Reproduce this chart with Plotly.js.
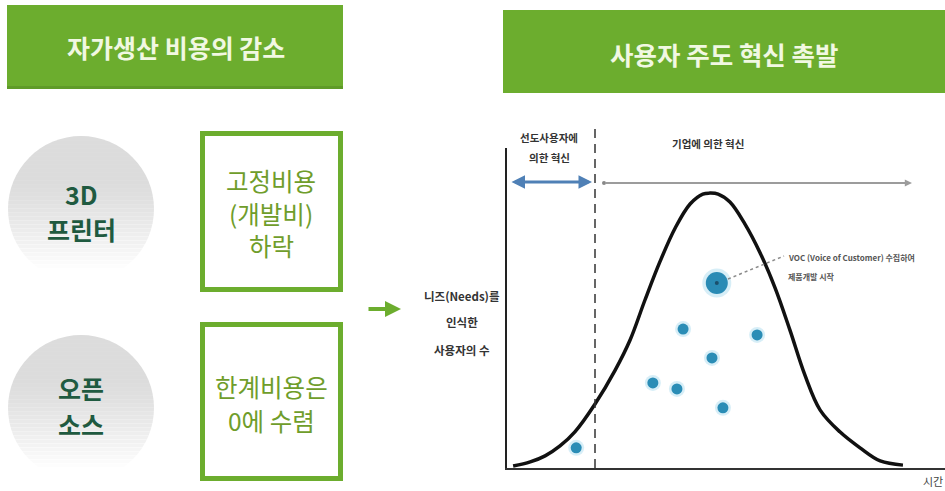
<!DOCTYPE html>
<html>
<head>
<meta charset="utf-8">
<script src="https://cdn.plot.ly/plotly-3.0.1.min.js"></script>
<style>
  html, body { margin: 0; padding: 0; background: #fff; }
  #chart { width: 945px; height: 491px; }
</style>
</head>
<body>
<div id="chart"></div>
<script>
// Diffusion curve: users who recognise a need, over time
const curveTime  = [1.4, 5.3, 8.7, 12.1, 15.5, 20.1, 24.7, 28.1, 31.5, 34.9, 38.4, 41.8, 44.7, 46.3, 48.2, 50.9, 54.3, 57.8, 61.2, 64.6, 68.0, 71.5, 76.0, 80.6, 85.2, 90.4];
const curveUsers = [0.6, 1.9, 3.8, 6.9, 11.3, 20.0, 30.6, 40.0, 52.5, 64.4, 75.0, 82.5, 85.6, 85.9, 85.6, 83.1, 76.3, 67.2, 56.3, 43.1, 29.1, 18.1, 11.3, 6.3, 2.2, 0.9];

// Individual innovating users
const userTime  = [15.8, 40.2, 57.1, 46.8, 33.3, 38.8, 49.3];
const userCount = [6.3, 43.4, 41.6, 34.4, 26.6, 24.7, 18.8];

// User whose voice starts the firm's product development
const vocTime  = [47.9];
const vocCount = [57.8];

// Text
const leftHeader  = '자가생산 비용의 감소';
const rightHeader = '사용자 주도 혁신 촉발';
const driverLines = [['3D', '프린터'], ['오픈', '소스']];
const effectLines = [['고정비용', '(개발비)', '하락'], ['한계비용은', '0에 수렴']];
const leadUserLines = ['선도사용자에', '의한 혁신'];
const firmLabel = '기업에 의한 혁신';
const yLabelLines = ['니즈(Needs)를', '인식한', '사용자의 수'];
const xLabel = '시간';
const vocLines = ['VOC (Voice of Customer) 수집하여', '제품개발 시작'];

// Page geometry helpers (pixel -> paper)
const W = 945, H = 491;
const px = x => x / W;
const py = y => 1 - y / H;

const FONT = '"Noto Sans CJK KR", "Noto Sans", sans-serif';
const GREEN = '#6cad2e';

const shapes = [];
const annotations = [];

function rectPx(x0, y0, x1, y1, opts) {
  shapes.push(Object.assign({type: 'rect', xref: 'paper', yref: 'paper',
    x0: px(x0), x1: px(x1), y0: py(y1), y1: py(y0)}, opts));
}
function textPx(x, y, text, size, color, weight, anchor) {
  annotations.push({xref: 'paper', yref: 'paper', x: px(x), y: py(y), text: text,
    showarrow: false, xanchor: anchor || 'center', yanchor: 'middle', borderpad: 0,
    font: {family: FONT, size: size, color: color, weight: weight || 'normal'}});
}
function arrowPx(hx, hy, tx, ty, color, width, head, size, side) {
  annotations.push({xref: 'paper', yref: 'paper', x: px(hx), y: py(hy),
    ax: tx - hx, ay: ty - hy, axref: 'pixel', ayref: 'pixel', text: '',
    showarrow: true, arrowcolor: color, arrowwidth: width, arrowhead: head,
    arrowsize: size, arrowside: side || 'end', startarrowhead: head, startarrowsize: size});
}

// Green header bars
rectPx(7, 5, 343, 88, {fillcolor: GREEN, line: {width: 0}});
rectPx(7, 86, 343, 89, {fillcolor: '#5f9b28', line: {width: 0}});
rectPx(503, 10, 945, 93, {fillcolor: GREEN, line: {width: 0}});
textPx(176, 47, leftHeader, 25, '#f1f8e2', 'bold');
textPx(724, 53, rightHeader, 25.5, '#f1f8e2', 'bold');

// Grey discs fading to white towards the bottom
function fadedDisc(cx, cy, r) {
  shapes.push({type: 'circle', xref: 'paper', yref: 'paper',
    x0: px(cx - r), x1: px(cx + r), y0: py(cy + r), y1: py(cy - r),
    fillcolor: '#d8d8d8', line: {width: 0}});
  const step = 4;
  for (let y = cy - r; y < cy + r; y += step) {
    const t = (y + step / 2 - (cy - r)) / (2 * r);
    const k = Math.min(1, Math.max(0, (t - 0.3) / 0.62));
    const op = Math.min(1, 0.1 + 0.9 * Math.pow(k, 1.3));
    rectPx(cx - r - 1, y, cx + r + 1, y + step + 0.5, {fillcolor: '#ffffff', opacity: op, line: {width: 0}});
  }
}
fadedDisc(81, 209, 73);
fadedDisc(81, 408, 73);
textPx(81, 194, driverLines[0][0], 25, '#1f5a40', 'bold');
textPx(81, 229, driverLines[0][1], 25, '#1f5a40', 'bold');
textPx(81, 388, driverLines[1][0], 25, '#1f5a40', 'bold');
textPx(81, 424, driverLines[1][1], 25, '#1f5a40', 'bold');

// Green outlined effect boxes
rectPx(202.5, 133.5, 340.5, 289.5, {fillcolor: 'rgba(0,0,0,0)', line: {color: GREEN, width: 5}});
rectPx(202.5, 324.5, 340.5, 478.5, {fillcolor: 'rgba(0,0,0,0)', line: {color: GREEN, width: 5}});
textPx(271, 181, effectLines[0][0], 24.5, '#6f9d2b');
textPx(271, 213, effectLines[0][1], 24.5, '#6f9d2b');
textPx(271, 245, effectLines[0][2], 24.5, '#6f9d2b');
textPx(271, 386, effectLines[1][0], 24.5, '#6f9d2b');
textPx(271, 420, effectLines[1][1], 24.5, '#6f9d2b');

// Green arrow linking the two halves
arrowPx(401, 309, 367, 309, GREEN, 4, 2, 0.8);

// Boundary between lead-user and firm innovation
shapes.push({type: 'line', xref: 'paper', yref: 'paper', x0: px(595), x1: px(595),
  y0: py(468), y1: py(124), line: {color: '#333', width: 1.5, dash: '9px,6px'}});

// Span arrows above the curve
arrowPx(592, 182, 510, 182, '#4f80b6', 3, 2, 0.9, 'end+start');
arrowPx(912, 183, 604, 183, '#9c9c9c', 1.8, 2, 0.8);
shapes.push({type: 'circle', xref: 'paper', yref: 'paper', x0: px(602), x1: px(606),
  y0: py(185), y1: py(181), fillcolor: '#888', line: {width: 0}});
textPx(549, 137, leadUserLines[0], 10.5, '#333', 'bold');
textPx(549, 157, leadUserLines[1], 10.5, '#333', 'bold');
textPx(708, 143, firmLabel, 10.5, '#333', 'bold');

// Axis captions
textPx(462, 296, yLabelLines[0], 11.5, '#333', 'bold');
textPx(462, 322, yLabelLines[1], 11.5, '#333', 'bold');
textPx(462, 350, yLabelLines[2], 11.5, '#333', 'bold');
textPx(922, 481, xLabel, 11, '#444', 'normal', 'left');

// VOC call-out
shapes.push({type: 'line', xref: 'paper', yref: 'paper', x0: px(728), x1: px(784),
  y0: py(279), y1: py(256), line: {color: '#8a8a8a', width: 1.5, dash: 'dot'}});
textPx(787, 257, vocLines[0], 8, '#555', 'bold', 'left');
textPx(787, 276, vocLines[1], 8, '#555', 'bold', 'left');

const traces = [
  {x: curveTime, y: curveUsers, type: 'scatter', mode: 'lines',
   line: {color: '#111', width: 3.5, shape: 'spline', smoothing: 1}, hoverinfo: 'skip'},
  {x: userTime, y: userCount, type: 'scatter', mode: 'markers',
   marker: {size: 16, color: 'rgba(140,205,232,0.35)'}, hoverinfo: 'skip'},
  {x: userTime, y: userCount, type: 'scatter', mode: 'markers',
   marker: {size: 11, color: '#2b8db6'}, hoverinfo: 'skip'},
  {x: vocTime, y: vocCount, type: 'scatter', mode: 'markers',
   marker: {size: 29, color: 'rgba(140,205,232,0.35)'}, hoverinfo: 'skip'},
  {x: vocTime, y: vocCount, type: 'scatter', mode: 'markers',
   marker: {size: 22, color: '#2a8bb5'}, hoverinfo: 'skip'},
  {x: vocTime, y: vocCount, type: 'scatter', mode: 'markers',
   marker: {size: 4, color: '#1b4f6c'}, hoverinfo: 'skip'}
];

const layout = {
  width: W, height: H,
  margin: {l: 0, r: 0, t: 0, b: 0},
  paper_bgcolor: '#fff', plot_bgcolor: 'rgba(0,0,0,0)',
  showlegend: false,
  xaxis: {domain: [507 / W, 1], range: [0, 100], showline: true, linecolor: '#333', linewidth: 2,
          showgrid: false, zeroline: false, showticklabels: false, ticks: ''},
  yaxis: {domain: [py(468), py(148)], range: [0, 100], showline: true, linecolor: '#222', linewidth: 2,
          showgrid: false, zeroline: false, showticklabels: false, ticks: ''},
  shapes: shapes,
  annotations: annotations,
  font: {family: FONT}
};

Plotly.newPlot('chart', traces, layout, {staticPlot: true, displayModeBar: false});
</script>
</body>
</html>
